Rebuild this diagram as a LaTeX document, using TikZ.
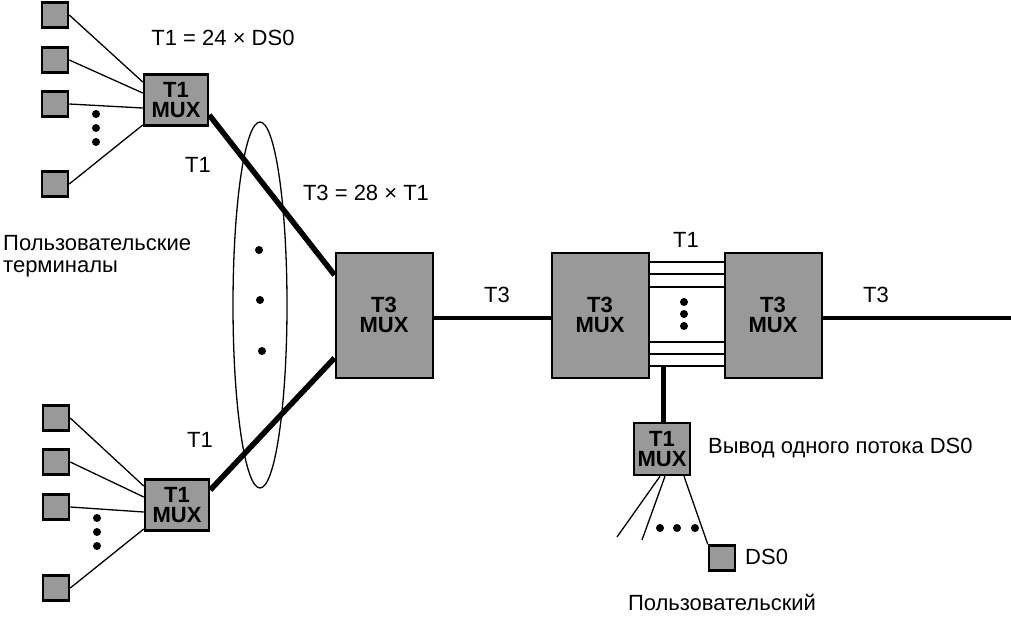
\documentclass[tikz,border=0pt]{standalone}
\usepackage{fontspec}
\setmainfont{Liberation Sans}
\usetikzlibrary{shapes.geometric}
\begin{document}
\begin{tikzpicture}[x=1pt,y=-1pt,
  muxfill/.style={fill=black!40},
  term/.style={draw,line width=2.5pt,muxfill,minimum width=26pt,minimum height=25pt,inner sep=0pt},
  tonemux/.style={draw,line width=2.5pt,muxfill,minimum width=64pt,minimum height=51pt,inner sep=0pt,
    font=\bfseries\fontsize{22}{20}\selectfont,align=center},
  tthreemux/.style={draw,line width=2pt,muxfill,minimum width=97pt,minimum height=125pt,inner sep=0pt,
    font=\bfseries\fontsize{22}{20}\selectfont,align=center},
  lbl/.style={font=\fontsize{22}{22}\selectfont,inner sep=0pt},
  thin/.style={line width=1.3pt},
  tline/.style={line width=5.5pt},
  trunk/.style={line width=4.5pt},
  par/.style={line width=2.5pt},
  dotnode/.style={circle,fill=black,inner sep=0pt,minimum size=8pt},
]
\useasboundingbox (0,0) rectangle (1011,616);
% top group
\node[term] (s1) at (55,15) {};
\node[term] (s2) at (55,60) {};
\node[term] (s3) at (55,104) {};
\node[term] (s4) at (55,184) {};
\node[tonemux] (m1) at (176,100) {T1\\MUX};
\draw[thin] (s1.east) -- ([yshift=18pt]m1.west);
\draw[thin] (s2.east) -- ([yshift=7pt]m1.west);
\draw[thin] (s3.east) -- ([yshift=-8pt]m1.west);
\draw[thin] (s4.east) -- ([yshift=-25pt]m1.west);
\node[dotnode] (d1) at (96,114) {};
\node[dotnode] (d2) at (96,128) {};
\node[dotnode] (d3) at (96,142) {};
\node[lbl] (l1) at (223,38) {T1 = 24 × DS0};
\node[lbl] (l2) at (198,165) {T1};
% bottom group
\node[term] (b1) at (56,418) {};
\node[term] (b2) at (56,462) {};
\node[term] (b3) at (56,507) {};
\node[term] (b4) at (56,588) {};
\node[tonemux] (m2) at (177,505) {T1\\MUX};
\draw[thin] (b1.east) -- ([yshift=19pt]m2.west);
\draw[thin] (b2.east) -- ([yshift=8pt]m2.west);
\draw[thin] (b3.east) -- ([yshift=-7pt]m2.west);
\draw[thin] (b4.east) -- ([yshift=-24pt]m2.west);
\node[dotnode] (e1) at (97,518) {};
\node[dotnode] (e2) at (97,532) {};
\node[dotnode] (e3) at (97,546) {};
\node[lbl] (l3) at (200,440) {T1};
% labels left
\node[lbl,anchor=west,align=left] (u1) at (3,256) {Пользовательские\\терминалы};
% ellipse
\node[draw,thin,ellipse,minimum width=54pt,minimum height=366pt,inner sep=0pt] (ell) at (260,305) {};
\node[dotnode] (f1) at (259,250) {};
\node[dotnode] (f2) at (260,300) {};
\node[dotnode] (f3) at (262,351) {};
% T3 mux left
\node[tthreemux] (m3) at (384,315) {T3\\MUX};
\node[lbl] (l4) at (366,193) {T3 = 28 × T1};
\draw[tline] ([yshift=-15pt]m1.east) -- ([yshift=40pt]m3.west);
\draw[tline] ([yshift=15pt]m2.east) -- ([yshift=-43pt]m3.west);
% middle
\node[tthreemux] (m4) at (600,315) {T3\\MUX};
\node[tthreemux] (m5) at (773,315) {T3\\MUX};
\draw[trunk] ([yshift=-3pt]m3.east) -- ([yshift=-3pt]m4.west);
\node[lbl] (l5) at (497,295) {T3};
\draw[par] ([yshift=53pt]m4.east) -- ([yshift=53pt]m5.west);
\draw[par] ([yshift=41pt]m4.east) -- ([yshift=41pt]m5.west);
\draw[par] ([yshift=28pt]m4.east) -- ([yshift=28pt]m5.west);
\draw[par] ([yshift=-27pt]m4.east) -- ([yshift=-27pt]m5.west);
\draw[par] ([yshift=-39pt]m4.east) -- ([yshift=-39pt]m5.west);
\draw[par] ([yshift=-51pt]m4.east) -- ([yshift=-51pt]m5.west);
\node[dotnode] (g1) at (684,302) {};
\node[dotnode] (g2) at (684,314) {};
\node[dotnode] (g3) at (684,326) {};
\node[lbl] (l6) at (686,240) {T1};
\coordinate (rend) at (1011,318);
\draw[trunk] ([yshift=-3pt]m5.east) -- (rend);
\node[lbl] (l7) at (876,295) {T3};
% drop mux
\node[draw,line width=2.5pt,muxfill,minimum width=56pt,minimum height=52pt,inner sep=0pt,
    font=\bfseries\fontsize{22}{20}\selectfont,align=center] (m6) at (662,449) {T1\\MUX};
\coordinate (stem) at (663,366);
\draw[line width=5pt] (stem) -- (m6.north -| stem);
\node[lbl,anchor=west] (l8) at (708,448) {Вывод одного потока DS0};
\node[term] (ds) at (722,558) {};
\node[lbl,anchor=west] (l9) at (745,557) {DS0};
\coordinate (c1) at (617,537);
\coordinate (c2) at (642,540);
\draw[thin] ([xshift=-2pt]m6.south) -- (c1);
\draw[thin] ([xshift=3pt]m6.south) -- (c2);
\draw[thin] ([xshift=22pt]m6.south) -- (ds.north west);
\node[dotnode] (h1) at (660,528) {};
\node[dotnode] (h2) at (677,528) {};
\node[dotnode] (h3) at (695,528) {};
\node[lbl] (l10) at (722,602) {Пользовательский};
\end{tikzpicture}
\end{document}
